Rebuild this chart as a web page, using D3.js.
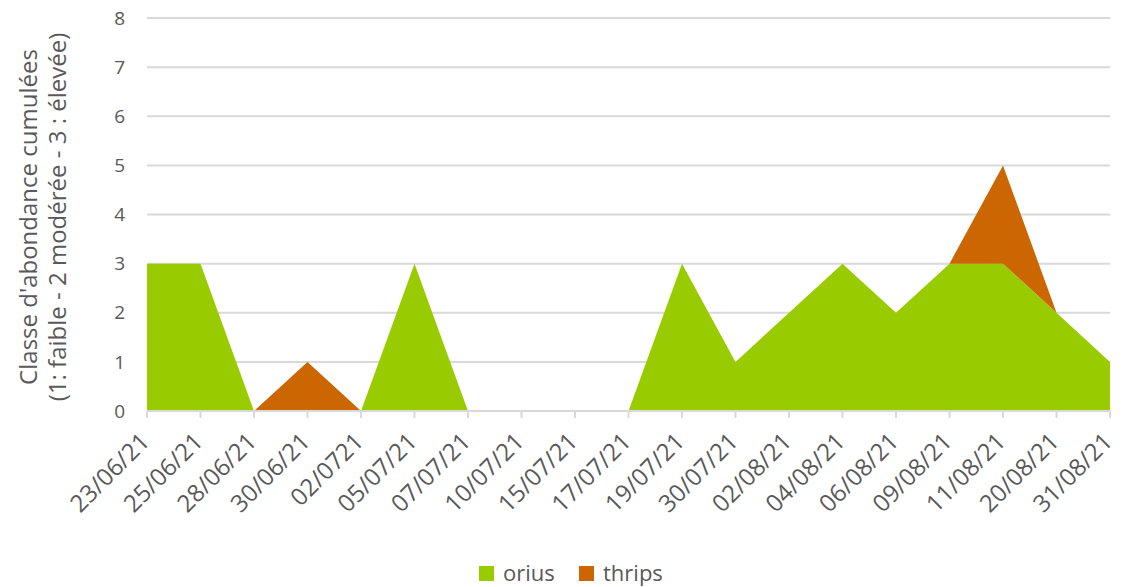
<!DOCTYPE html>
<html lang="fr">
<head>
    <meta charset="UTF-8">
    <title>Classe d'abondance cumulées</title>
    <script src="https://d3js.org/d3.v7.min.js"></script>
    <style>
        body { margin: 0; background: #fff; }
        svg text { font-family: "Open Sans", "Noto Sans", sans-serif; fill: #595959; }
        .grid line { stroke: #d9d9d9; stroke-width: 2px; }
    </style>
</head>
<body>
    <svg id="chart" width="1122" height="587"></svg>
    <script>
        // dates (axe X)
        const dates = ["23/06/21", "25/06/21", "28/06/21", "30/06/21", "02/0721", "05/07/21", "07/07/21",
            "10/07/21", "15/07/21", "17/07/21", "19/07/21", "30/07/21", "02/08/21", "04/08/21",
            "06/08/21", "09/08/21", "11/08/21", "20/08/21", "31/08/21"];
        // séries (empilées)
        const orius  = [3, 3, 0, 0, 0, 3, 0, 0, 0, 0, 3, 1, 2, 3, 2, 3, 3, 2, 1];
        const thrips = [0, 0, 0, 1, 0, 0, 0, 0, 0, 0, 0, 0, 0, 0, 0, 0, 2, 0, 0];
        const seriesNames = ["orius", "thrips"];
        const seriesColors = ["#99cc00", "#cc6600"];
        const yTicks = [0, 1, 2, 3, 4, 5, 6, 7, 8];

        const svg = d3.select("#chart");
        const plotLeft = 147, plotRight = 1110, plotTop = 18, plotBottom = 411;

        const x = d3.scalePoint().domain(dates).range([plotLeft, plotRight]);
        const y = d3.scaleLinear().domain([0, 8]).range([plotBottom, plotTop]);

        // lignes de grille
        svg.append("g").attr("class", "grid")
            .selectAll("line").data(yTicks.filter(d => d > 0)).enter().append("line")
            .attr("x1", plotLeft).attr("x2", plotRight)
            .attr("y1", d => y(d)).attr("y2", d => y(d));

        // données empilées
        const table = dates.map((d, i) => ({ date: d, orius: orius[i], thrips: thrips[i] }));
        const stack = d3.stack().keys(seriesNames)(table);
        const area = d3.area()
            .x(d => x(d.data.date))
            .y0(d => y(d[0]))
            .y1(d => y(d[1]));

        svg.append("g").selectAll("path").data(stack).enter().append("path")
            .attr("d", area)
            .attr("fill", (d, i) => seriesColors[i]);

        // axe X
        const xAxis = svg.append("g").attr("transform", `translate(0,${plotBottom})`);
        xAxis.append("line").attr("x1", plotLeft).attr("x2", plotRight)
            .attr("stroke", "#d9d9d9").attr("stroke-width", 2);
        xAxis.selectAll(".tick").data(dates).enter().append("line")
            .attr("x1", d => x(d)).attr("x2", d => x(d))
            .attr("y1", 0).attr("y2", 7)
            .attr("stroke", "#d9d9d9").attr("stroke-width", 2);
        xAxis.selectAll("text").data(dates).enter().append("text")
            .attr("transform", d => `translate(${x(d) + 4},${32}) rotate(-45)`)
            .attr("text-anchor", "end")
            .style("font-size", "24px")
            .text(d => d);

        // axe Y
        svg.append("g").selectAll("text").data(yTicks).enter().append("text")
            .attr("x", 125).attr("y", d => y(d))
            .attr("dy", "0.35em")
            .attr("text-anchor", "end")
            .style("font-size", "19px")
            .text(d => d);

        const yTitle = svg.append("text")
            .attr("transform", `translate(37,217) rotate(-90)`)
            .attr("text-anchor", "middle")
            .style("font-size", "24px");
        yTitle.append("tspan").attr("x", 0).attr("dy", 0).text("Classe d'abondance cumulées");
        yTitle.append("tspan").attr("x", 0).attr("dy", 29).text("(1: faible - 2 modérée - 3 : élevée)");

        // légende
        const legendX = [479, 579];
        const legend = svg.append("g").selectAll("g").data(seriesNames).enter().append("g")
            .attr("transform", (d, i) => `translate(${legendX[i]},566)`);
        legend.append("rect").attr("width", 15).attr("height", 15)
            .attr("fill", (d, i) => seriesColors[i]);
        legend.append("text").attr("x", 24).attr("y", 15)
            .style("font-size", "22px")
            .text(d => d);
    </script>
</body>
</html>
